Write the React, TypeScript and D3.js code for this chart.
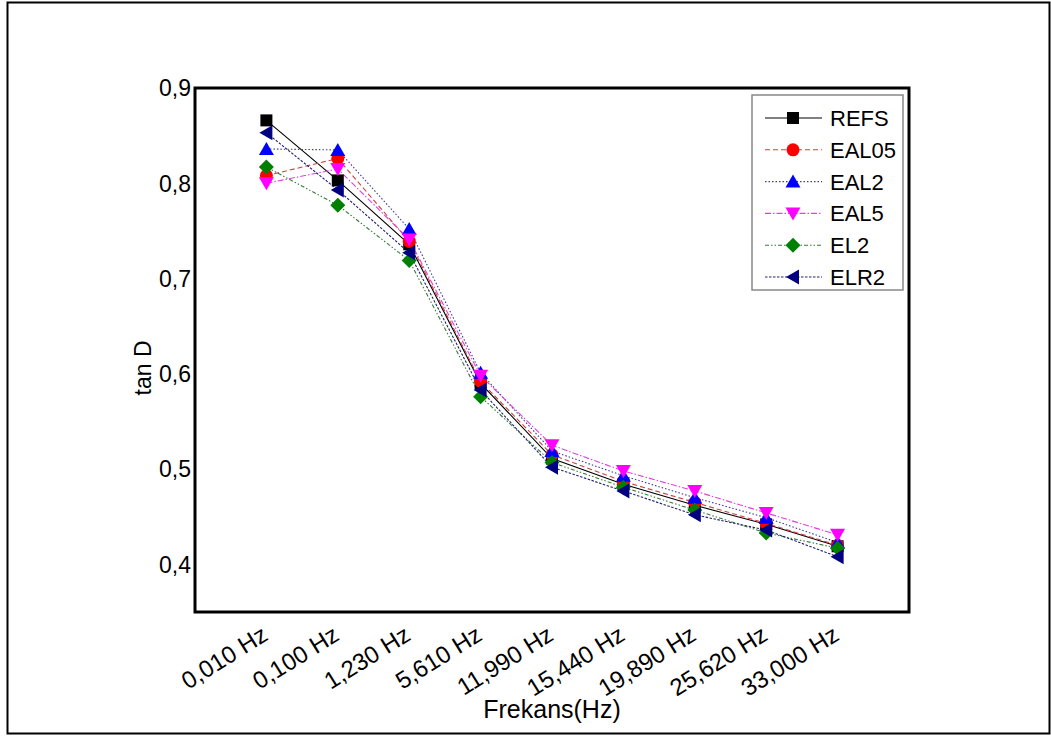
import React from "react";
import * as d3 from "d3";

const categories = ["0,010 Hz", "0,100 Hz", "1,230 Hz", "5,610 Hz", "11,990 Hz", "15,440 Hz", "19,890 Hz", "25,620 Hz", "33,000 Hz"];
const seriesNames = ["REFS", "EAL05", "EAL2", "EAL5", "EL2", "ELR2"];
const REFS = [0.866, 0.803, 0.736, 0.590, 0.511, 0.484, 0.462, 0.442, 0.419];
const EAL05 = [0.808, 0.826, 0.739, 0.592, 0.515, 0.487, 0.465, 0.443, 0.420];
const EAL2 = [0.836, 0.835, 0.752, 0.601, 0.519, 0.493, 0.470, 0.449, 0.423];
const EAL5 = [0.800, 0.815, 0.741, 0.598, 0.525, 0.498, 0.477, 0.454, 0.431];
const EL2 = [0.817, 0.777, 0.719, 0.576, 0.507, 0.481, 0.457, 0.433, 0.417];
const ELR2 = [0.853, 0.793, 0.727, 0.583, 0.502, 0.477, 0.452, 0.436, 0.408];
const seriesValues = [REFS, EAL05, EAL2, EAL5, EL2, ELR2];
const yTicks = [0.4, 0.5, 0.6, 0.7, 0.8, 0.9];

const colors = ["#000000", "#ff0000", "#0000ff", "#ff00ff", "#008000", "#000080"];
const dashes = ["", "5,3", "1.5,2", "6,2,1.5,2", "4,2,1.5,2,1.5,2", "2.5,1.5"];
const lineColors = ["#000000", "#d04040", "#3a3aa0", "#e040e0", "#3a7a3a", "#202070"];
const shapes = ["square", "circle", "up", "down", "diamond", "left"];

function Marker({ shape, x, y, color }: { shape: string; x: number; y: number; color: string }) {
  const s = 7;
  if (shape === "square") return <rect x={x - 6} y={y - 6} width={12} height={12} fill={color} />;
  if (shape === "circle") return <circle cx={x} cy={y} r={6.5} fill={color} />;
  let pts: number[][] = [];
  if (shape === "up") pts = [[x, y - s], [x + s + 0.5, y + s - 1], [x - s - 0.5, y + s - 1]];
  if (shape === "down") pts = [[x, y + s], [x + s + 0.5, y - s + 1], [x - s - 0.5, y - s + 1]];
  if (shape === "left") pts = [[x - s, y], [x + s - 1, y - s - 0.5], [x + s - 1, y + s + 0.5]];
  if (shape === "diamond") pts = [[x, y - 7.5], [x + 7.5, y], [x, y + 7.5], [x - 7.5, y]];
  return <polygon points={pts.map((p) => p.join(",")).join(" ")} fill={color} />;
}

export default function App() {
  const W = 1051, H = 738;
  const left = 195, right = 909, top = 88, bottom = 612;
  const x = d3.scalePoint<string>().domain(categories).range([left, right]).padding(1);
  const y = d3.scaleLinear().domain([0.35, 0.9]).range([bottom, top]);
  const line = d3.line<number>().x((_, i) => x(categories[i]) as number).y((d) => y(d));
  const font = "Arial, 'Liberation Sans', sans-serif";
  const legX = 752, legY = 95, legW = 151, legH = 195;
  return (
    <svg width={W} height={H} style={{ position: "absolute", left: 0, top: 0, background: "#fff" }} fontFamily={font}>
      <rect x={0} y={0} width={W} height={H} fill="#fff" />
      <rect x={7.5} y={2.5} width={1042} height={731} fill="none" stroke="#000" strokeWidth={2} />
      {seriesValues.map((vals, si) => (
        <path key={"l" + si} d={line(vals) || ""} fill="none" stroke={lineColors[si]} strokeWidth={1.1} strokeDasharray={dashes[si]} />
      ))}
      {seriesValues.map((vals, si) =>
        vals.map((v, i) => <Marker key={"m" + si + "-" + i} shape={shapes[si]} x={x(categories[i]) as number} y={y(v)} color={colors[si]} />)
      )}
      <rect x={left} y={top} width={right - left} height={bottom - top} fill="none" stroke="#000" strokeWidth={3} />
      {yTicks.map((t) => (
        <text key={"yt" + t} x={left - 4} y={y(t)} dy="0.36em" textAnchor="end" fontSize={23}>
          {String(t).replace(".", ",")}
        </text>
      ))}
      {categories.map((c) => (
        <text key={"xt" + c} transform={`translate(${(x(c) as number) + 3},${639}) rotate(-32)`} textAnchor="end" fontSize={24}>
          {c}
        </text>
      ))}
      <text x={(left + right) / 2} y={718} textAnchor="middle" fontSize={25}>Frekans(Hz)</text>
      <text transform={`translate(151,368) rotate(-90)`} textAnchor="middle" fontSize={23}>tan D</text>
      <rect x={legX} y={legY} width={legW} height={legH} fill="#fff" stroke="#888" strokeWidth={1.5} />
      {seriesNames.map((n, si) => {
        const ly = 118 + si * 31.8;
        return (
          <g key={"lg" + n}>
            <line x1={765} x2={822} y1={ly} y2={ly} stroke={lineColors[si]} strokeWidth={1.1} strokeDasharray={dashes[si]} />
            <Marker shape={shapes[si]} x={793} y={ly} color={colors[si]} />
            <text x={830} y={ly} dy="0.36em" fontSize={22}>{n}</text>
          </g>
        );
      })}
    </svg>
  );
}
